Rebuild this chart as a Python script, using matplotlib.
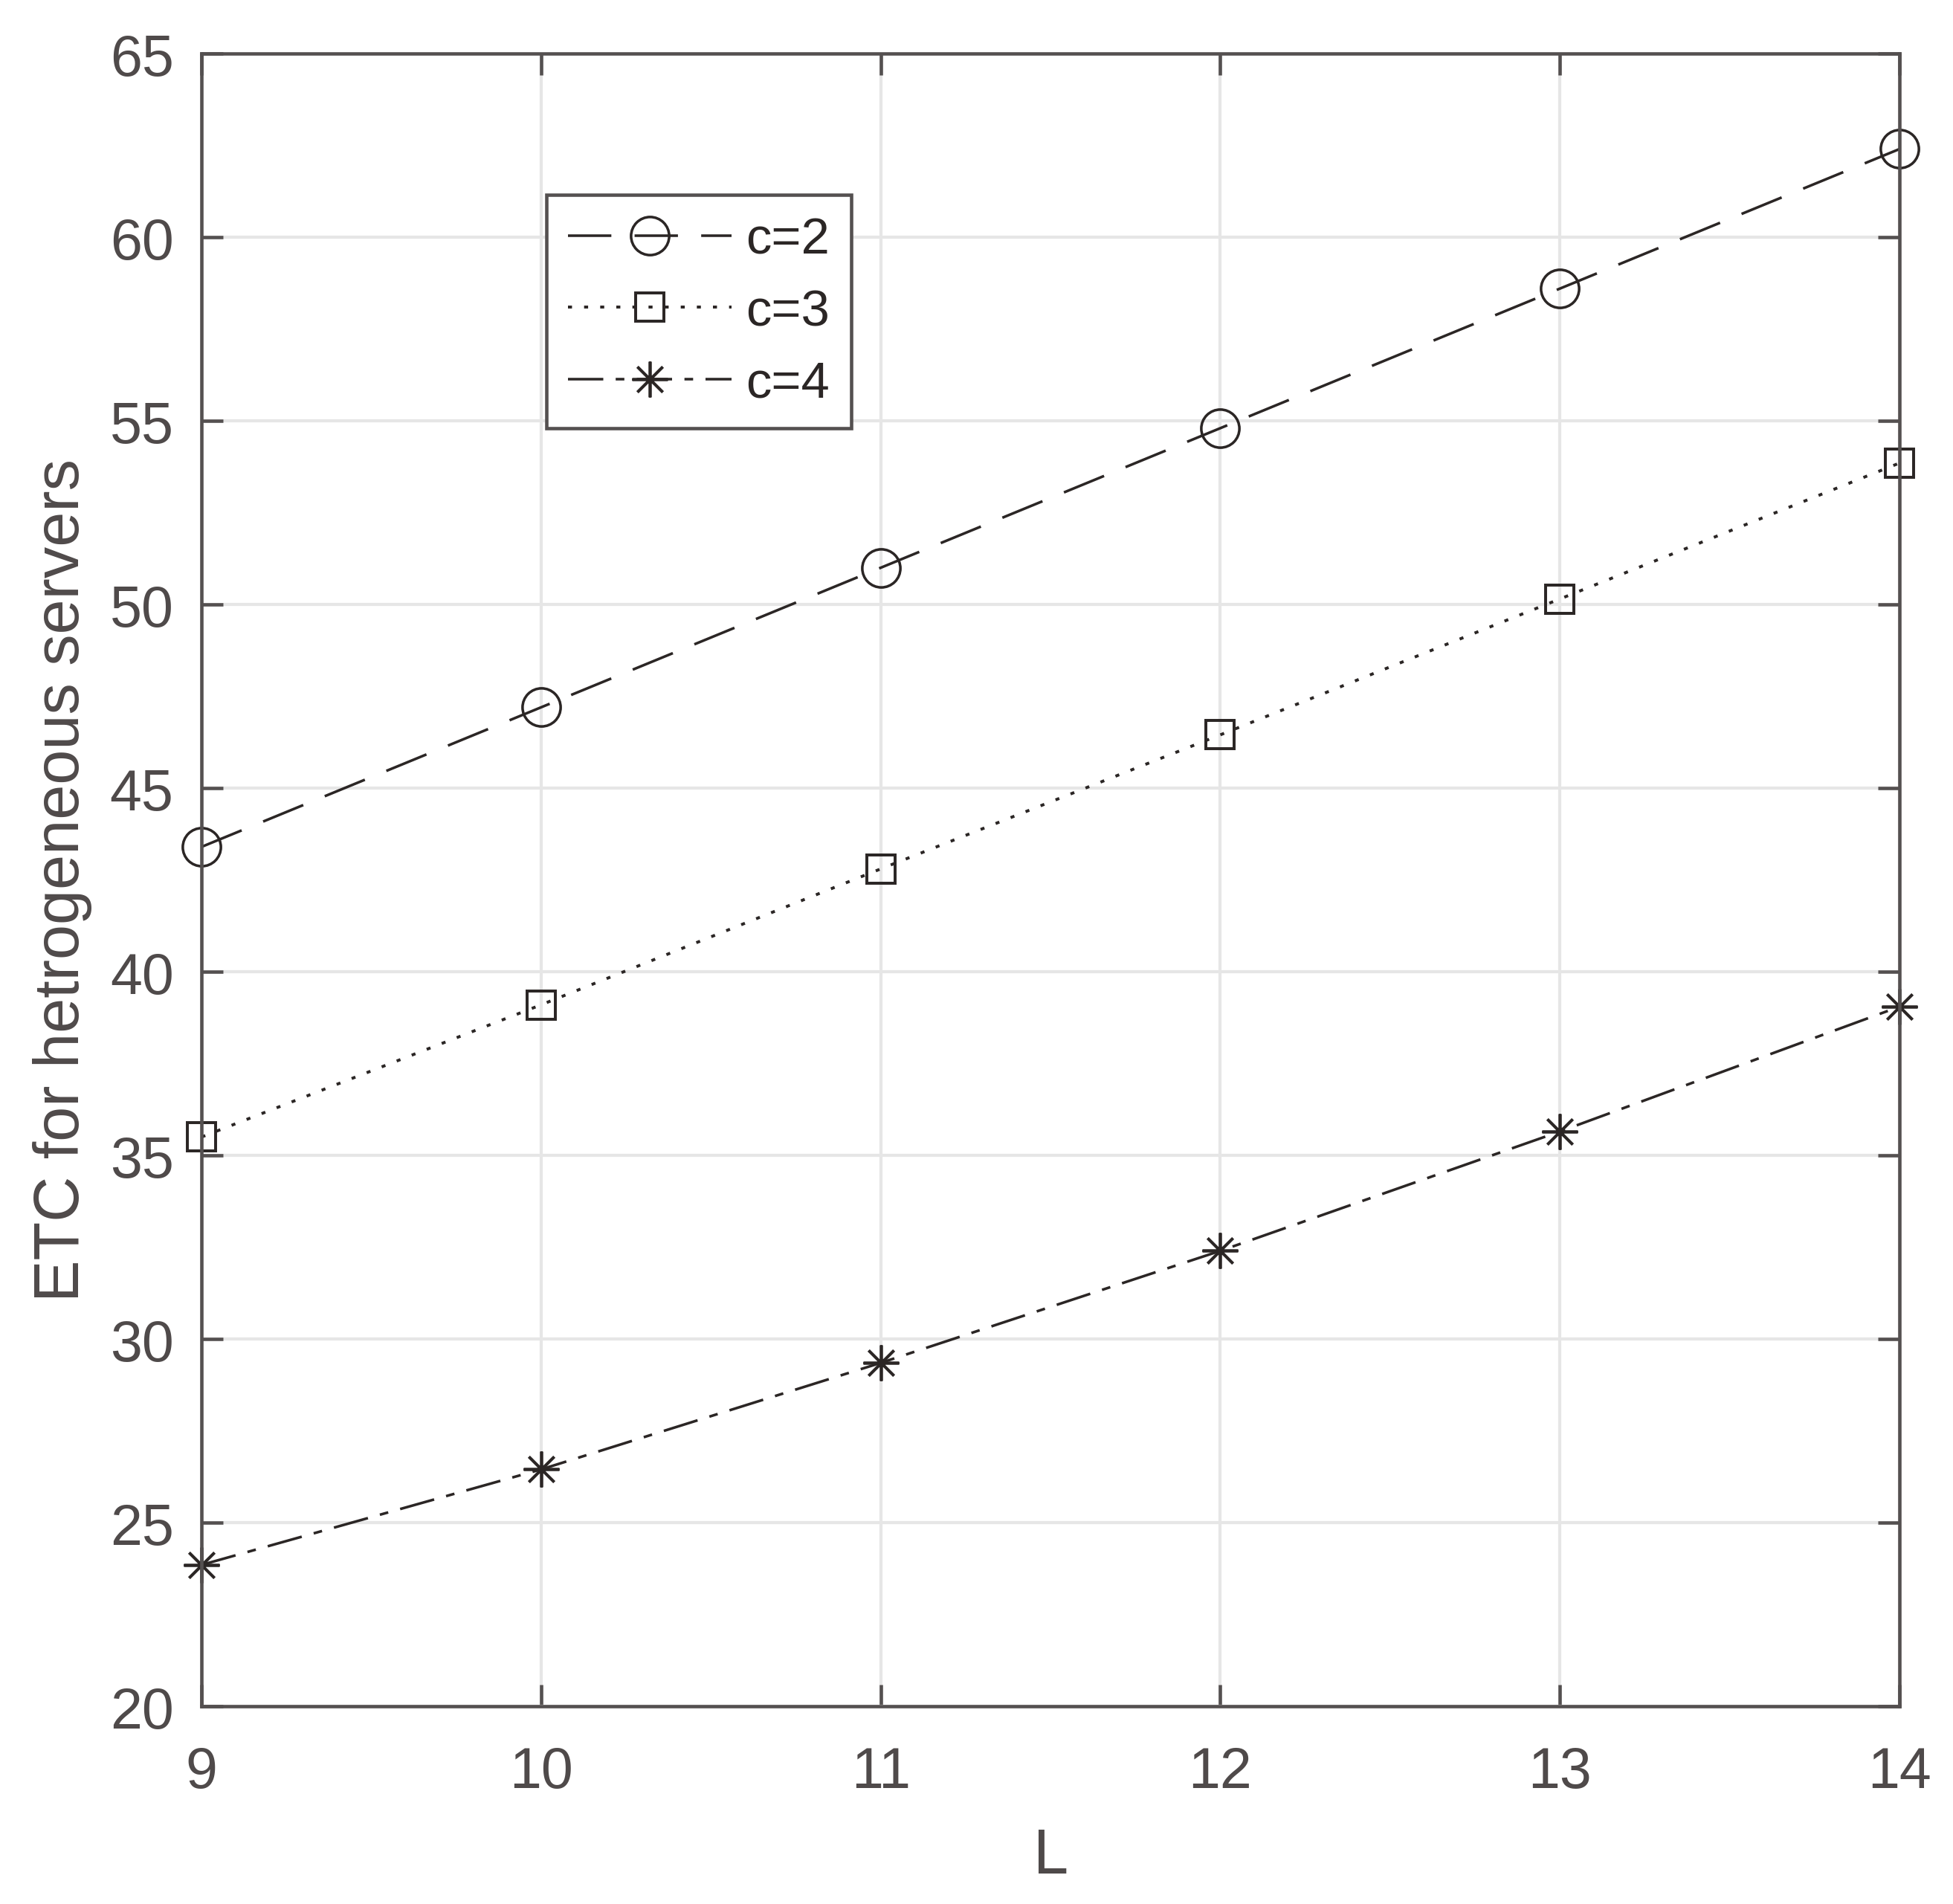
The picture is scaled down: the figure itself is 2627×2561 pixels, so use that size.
import numpy as np
import matplotlib
matplotlib.use('Agg')
import matplotlib.pyplot as plt

# values
L = [9, 10, 11, 12, 13, 14]
etc_c2 = [43.4, 47.2, 51.0, 54.8, 58.6, 62.4]
etc_c3 = [35.5, 39.1, 42.8, 46.45, 50.15, 53.85]
etc_c4 = [23.85, 26.45, 29.35, 32.4, 35.65, 39.05]
labels = ['c=2', 'c=3', 'c=4']

plt.rcParams['font.family'] = ['Liberation Sans', 'DejaVu Sans']
plt.rcParams['lines.scale_dashes'] = False

axcol = '#545050'
linecol = '#2b2625'
txtcol = '#4f4a4a'

fig = plt.figure(figsize=(2627 / 300, 2562 / 300), dpi=300)
ax = fig.add_axes([0.1032, 0.1038, 0.8694, 0.8677])

lw = 0.85
ax.plot(L, etc_c2, color=linecol, lw=lw, ls=(0, (14, 7.5)), marker='o', ms=12.3,
        mfc='none', mec=linecol, mew=0.85, label=labels[0], clip_on=False)
ax.plot(L, etc_c3, color=linecol, lw=0.95, ls=(0, (1.3, 3.9)), marker='s', ms=9,
        mfc='none', mec=linecol, mew=0.95, label=labels[1], clip_on=False)
ax.plot(L, etc_c4, color=linecol, lw=lw, ls=(0, (11.4, 4, 2.8, 4)), marker=(8, 2, 0), ms=11.5,
        mfc='none', mec=linecol, mew=0.9, label=labels[2], clip_on=False)

ax.set_xlim(9, 14)
ax.set_ylim(20, 65)
ax.set_xticks(L)
ax.set_yticks(np.arange(20, 66, 5))
ax.grid(True, color='#e6e6e6', lw=1.0)
ax.set_axisbelow(True)

for s in ax.spines.values():
    s.set_color(axcol)
    s.set_linewidth(1.1)
    s.set_zorder(3)
ax.tick_params(axis='both', direction='in', length=7, width=1.1, color=axcol,
               labelsize=18.5, labelcolor=txtcol, top=True, right=True)
ax.tick_params(axis='x', pad=12.5)
ax.tick_params(axis='y', pad=9)

ax.set_xlabel('L', fontsize=20.3, color=txtcol)
ax.set_ylabel('ETC for hetrogeneous servers', fontsize=20.3, color=txtcol)
ax.yaxis.set_label_coords(-0.0643, 0.5)
ax.xaxis.set_label_coords(0.5, -0.073)

leg = ax.legend(loc='upper left', bbox_to_anchor=(0.203, 0.9145), fontsize=16.5,
                handlelength=3.2, handletextpad=0.28, labelspacing=0.47,
                borderpad=0.42, borderaxespad=0, fancybox=False, framealpha=1,
                edgecolor=axcol, labelcolor=linecol)
leg.get_frame().set_linewidth(1.1)

fig.savefig('out.png', dpi=300, facecolor='white')
